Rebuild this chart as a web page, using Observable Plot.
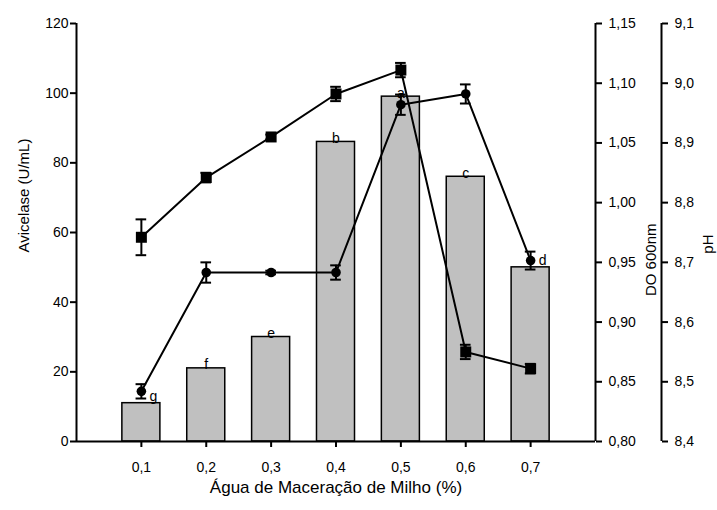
<!DOCTYPE html>
<html>
<head>
<meta charset="utf-8">
<script src="https://cdn.jsdelivr.net/npm/d3@7"></script>
<script src="https://cdn.jsdelivr.net/npm/@observablehq/plot@0.6"></script>
<style>
  html, body { margin: 0; padding: 0; background: #ffffff; }
  #chart { width: 717px; height: 510px; }
</style>
</head>
<body>
<div id="chart"></div>
<script>
// Corn steep liquor concentration (%) on the x axis
const concentrations = [0.1, 0.2, 0.3, 0.4, 0.5, 0.6, 0.7];
// Avicelase activity (U/mL), bars, with significance letters
const avicelase = [11, 21, 30, 86, 99, 76, 50];
const letters = ["g", "f", "e", "b", "a", "c", "d"];
// Optical density at 600 nm (square markers) and its standard error
const do600 = [0.971, 1.021, 1.055, 1.091, 1.111, 0.875, 0.861];
const do600Err = [0.015, 0.004, 0.002, 0.006, 0.006, 0.006, 0.004];
// pH (circle markers) and its standard error
const pH = [8.484, 8.683, 8.683, 8.683, 8.964, 8.982, 8.703];
const pHErr = [0.012, 0.017, 0.003, 0.012, 0.017, 0.016, 0.015];

// Axis ticks
const xTicks = [0.1, 0.2, 0.3, 0.4, 0.5, 0.6, 0.7];
const avicelaseTicks = [0, 20, 40, 60, 80, 100, 120];
const doTicks = [0.80, 0.85, 0.90, 0.95, 1.00, 1.05, 1.10, 1.15];
const pHTicks = [8.4, 8.5, 8.6, 8.7, 8.8, 8.9, 9.0, 9.1];

const comma = (v, n) => v.toFixed(n).replace(".", ",");

// Secondary axes share the primary y scale through a linear mapping
const doDomain = [0.80, 1.15];
const pHDomain = [8.4, 9.1];
const yMax = 120;
const doToY = v => (v - doDomain[0]) / (doDomain[1] - doDomain[0]) * yMax;
const pHToY = v => (v - pHDomain[0]) / (pHDomain[1] - pHDomain[0]) * yMax;

const rows = concentrations.map((x, i) => ({
  x,
  avicelase: avicelase[i],
  letter: letters[i],
  doY: doToY(do600[i]),
  doLo: doToY(do600[i] - do600Err[i]),
  doHi: doToY(do600[i] + do600Err[i]),
  pHY: pHToY(pH[i]),
  pHLo: pHToY(pH[i] - pHErr[i]),
  pHHi: pHToY(pH[i] + pHErr[i])
}));

const barHalf = 0.0293;   // half bar width, in x units
const capHalf = 0.0082;   // half error-bar cap width, in x units
const shiftedLetters = new Set(["g", "d"]); // letters that sit beside a marker

function errorBars(lo, hi) {
  return [
    Plot.ruleX(rows, {x: "x", y1: lo, y2: hi, stroke: "black", strokeWidth: 2}),
    Plot.ruleY(rows, {y: lo, x1: d => d.x - capHalf, x2: d => d.x + capHalf, stroke: "black", strokeWidth: 2}),
    Plot.ruleY(rows, {y: hi, x1: d => d.x - capHalf, x2: d => d.x + capHalf, stroke: "black", strokeWidth: 2})
  ];
}

const chart = Plot.plot({
  width: 717,
  height: 510,
  marginLeft: 76,
  marginRight: 122,
  marginTop: 23,
  marginBottom: 69,
  style: {fontFamily: "'Liberation Sans', Arial, sans-serif", fontSize: "14px", color: "black", background: "white"},
  x: {type: "linear", domain: [0, 0.8]},
  y: {domain: [0, yMax]},
  marks: [
    // Avicelase bars
    Plot.rect(rows, {x1: d => d.x - barHalf, x2: d => d.x + barHalf, y1: 0, y2: "avicelase",
      fill: "#c0c0c0", stroke: "black", strokeWidth: 1.5}),
    Plot.text(rows.filter(d => !shiftedLetters.has(d.letter)), {x: "x", y: "avicelase", text: "letter",
      lineAnchor: "bottom", dy: 1, fontSize: 14}),
    Plot.text(rows.filter(d => shiftedLetters.has(d.letter)), {x: "x", y: "avicelase", text: "letter",
      lineAnchor: "bottom", dx: 12, dy: -2, fontSize: 14}),

    // Axis lines
    Plot.ruleX([0], {y1: 0, y2: yMax, stroke: "black", strokeWidth: 2}),
    Plot.ruleX([0.8], {y1: 0, y2: yMax, stroke: "black", strokeWidth: 2}),
    Plot.ruleX([0.8], {y1: 0, y2: yMax, dx: 66, stroke: "black", strokeWidth: 2}),
    Plot.ruleY([0], {x1: 0, x2: 0.8, stroke: "black", strokeWidth: 2}),

    // DO 600nm series (squares)
    Plot.line(rows, {x: "x", y: "doY", stroke: "black", strokeWidth: 2}),
    ...errorBars("doLo", "doHi"),
    Plot.dot(rows, {x: "x", y: "doY", symbol: "square", r: 6.2, fill: "black"}),

    // pH series (circles)
    Plot.line(rows, {x: "x", y: "pHY", stroke: "black", strokeWidth: 2}),
    ...errorBars("pHLo", "pHHi"),
    Plot.dot(rows, {x: "x", y: "pHY", symbol: "circle", r: 4.8, fill: "black"}),

    // Axes
    Plot.axisX({ticks: xTicks, tickFormat: d => comma(d, 1), tickSize: 6, tickPadding: 15,
      strokeWidth: 2, label: null}),
    Plot.axisY({ticks: avicelaseTicks, tickFormat: d => String(d), tickSize: 6, tickPadding: 2,
      strokeWidth: 2, label: null}),
    Plot.axisY({anchor: "right", ticks: doTicks.map(doToY), tickFormat: (d, i) => comma(doTicks[i], 2),
      tickSize: 6, tickPadding: 7, strokeWidth: 2, label: null}),
    Plot.axisY({anchor: "right", dx: 66, ticks: pHTicks.map(pHToY), tickFormat: (d, i) => comma(pHTicks[i], 1),
      tickSize: 6, tickPadding: 7, strokeWidth: 2, label: null}),

    // Axis titles
    Plot.text(["Avicelase (U/mL)"], {text: d => d, frameAnchor: "left", rotate: -90, dx: -52, dy: 20, fontSize: 15}),
    Plot.text(["DO 600nm"], {text: d => d, frameAnchor: "right", rotate: -90, dx: 56, dy: -9, fontSize: 15}),
    Plot.text(["pH"], {text: d => d, frameAnchor: "right", rotate: -90, dx: 113, dy: 2, fontSize: 15}),
    Plot.text(["Água de Maceração de Milho (%)"], {text: d => d, frameAnchor: "bottom", dy: 51, fontSize: 17})
  ]
});

document.getElementById("chart").appendChild(chart);
</script>
</body>
</html>
